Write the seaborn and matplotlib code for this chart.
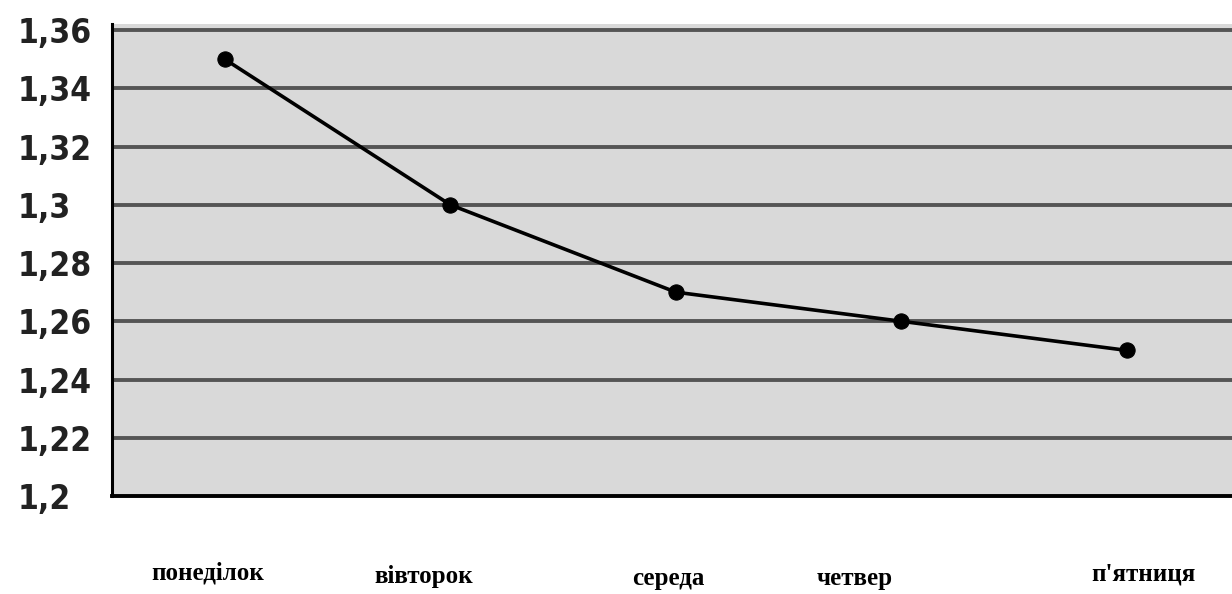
import matplotlib
matplotlib.use("Agg")
import matplotlib.pyplot as plt
import matplotlib.transforms as mtransforms
import seaborn as sns
import pandas as pd
import numpy as np

days = ["понеділок", "вівторок", "середа", "четвер", "п'ятниця"]
values = [1.35, 1.30, 1.27, 1.26, 1.25]
yticks = [1.2, 1.22, 1.24, 1.26, 1.28, 1.3, 1.32, 1.34, 1.36]
ytick_labels = ["1,2", "1,22", "1,24", "1,26", "1,28", "1,3", "1,32", "1,34", "1,36"]

df = pd.DataFrame({"day": days, "value": values, "pos": np.arange(len(days))})

sns.set_theme(style="white")
plt.rcParams['font.family'] = ['DejaVu Sans']

fig = plt.figure(figsize=(12.32, 5.94), dpi=100)
ax = fig.add_axes([112/1232, (594-496)/594, 1 - 112/1232 + 0.01, (496-24)/594])
ax.set_facecolor("#d9d9d9")

for y in yticks[1:]:
    ax.axhline(y, color="#555555", lw=2.8, zorder=1)

sns.lineplot(data=df, x="pos", y="value", ax=ax, color="black", lw=2.6,
             marker="o", markersize=11, markeredgecolor="black", zorder=3)

ax.set_xlim(-0.5, 4.52)
ax.set_ylim(1.2, 1.3621)
ax.set_xlabel("")
ax.set_ylabel("")

for side in ["top", "right"]:
    ax.spines[side].set_visible(False)
ax.spines["left"].set_color("black")
ax.spines["left"].set_linewidth(2.2)
ax.spines["bottom"].set_color("black")
ax.spines["bottom"].set_linewidth(2.8)

ax.set_yticks(yticks)
ax.set_yticklabels(ytick_labels)
ax.tick_params(axis="y", direction="out", length=4, width=1.5, color="black",
               pad=64, labelsize=24)
for lab in ax.get_yticklabels():
    lab.set_horizontalalignment("left")
    lab.set_fontstretch("condensed")
    lab.set_fontweight("bold")
    lab.set_color("#222222")

# category labels on major ticks, boundary tick marks on minor ticks
ax.set_xticks(np.arange(len(days)))
ax.set_xticklabels(days)
ax.set_xticks(np.arange(len(days)) + 0.5, minor=True)
ax.tick_params(axis="x", which="major", length=0, pad=60, labelsize=18)
ax.tick_params(axis="x", which="minor", direction="out", length=5, width=1.5, color="#333333")
label_dx = [-17, -27, -8, -47, 16]
label_dy = [0, -4, -6, -6, -1]
for lab, dx, dy in zip(ax.get_xticklabels(), label_dx, label_dy):
    lab.set_fontfamily(["Liberation Serif", "DejaVu Serif"])
    lab.set_fontweight("bold")
    lab.set_color("black")
    lab.set_verticalalignment("baseline")
    lab.set_transform(lab.get_transform() + mtransforms.ScaledTranslation(dx/100, dy/100, fig.dpi_scale_trans))

fig.savefig("out.png", dpi=100, facecolor="white")
